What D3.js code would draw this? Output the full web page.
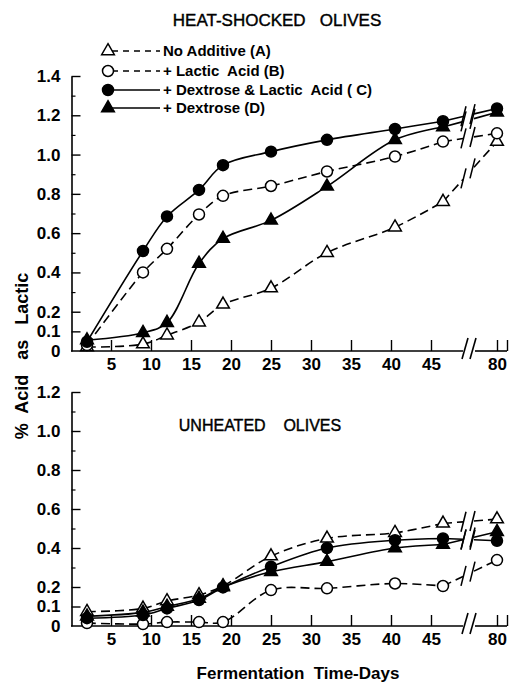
<!DOCTYPE html>
<html><head><meta charset="utf-8">
<script src="https://cdn.jsdelivr.net/npm/d3@7"></script>
<style>
body{margin:0;background:#fff}
svg text{font-family:"Liberation Sans",Arial,sans-serif;font-weight:bold;fill:#000;white-space:pre}
</style></head><body>
<svg id="c" width="514" height="684"></svg>
<script>
// ---------- DATA ----------
const days = [2, 9, 12, 16, 19, 25, 32, 40.5, 46.5, 80];
const seriesNames = ["No Additive (A)", "+ Lactic  Acid (B)", "+ Dextrose & Lactic  Acid ( C)", "+ Dextrose (D)"];
// Heat-shocked olives (% acid as lactic)
const heatA = [0.02, 0.035, 0.08, 0.146, 0.237, 0.32, 0.50, 0.63, 0.76, 1.066];
const heatB = [0.03, 0.40, 0.52, 0.695, 0.79, 0.84, 0.914, 0.99, 1.066, 1.108];
const heatC = [0.047, 0.509, 0.685, 0.82, 0.946, 1.015, 1.075, 1.13, 1.17, 1.235];
const heatD = [0.055, 0.093, 0.144, 0.445, 0.572, 0.665, 0.838, 1.075, 1.14, 1.215];
// Unheated olives
const unhA = [0.073, 0.09, 0.128, 0.159, 0.205, 0.358, 0.449, 0.478, 0.526, 0.548];
const unhB = [0.015, 0.01, 0.02, 0.02, 0.02, 0.184, 0.193, 0.218, 0.205, 0.338];
const unhC = [0.04, 0.056, 0.09, 0.133, 0.198, 0.304, 0.40, 0.44, 0.449, 0.437];
const unhD = [0.05, 0.07, 0.10, 0.14, 0.20, 0.278, 0.33, 0.40, 0.418, 0.483];
// Ticks
const xTickValues = [5, 10, 15, 20, 25, 30, 35, 40, 45, 80];
const xTickLabels = ["5", "10", "15", "20", "25", "30", "35", "40", "45", "80"];
const yTopValues = [0, 0.1, 0.2, 0.4, 0.6, 0.8, 1.0, 1.2, 1.4];
const yTopLabels = ["0", "0.1", "0.2", "0.4", "0.6", "0.8", "1.0", "1.2", "1.4"];
const yTopMinor = [0.3, 0.5, 0.7, 0.9, 1.1, 1.3];
const yBotValues = [0, 0.1, 0.2, 0.4, 0.6, 0.8, 1.0, 1.2];
const yBotLabels = ["0", "0.1", "0.2", "0.4", "0.6", "0.8", "1.0", "1.2"];
const yBotMinor = [0.3, 0.5, 0.7, 0.9, 1.1];

// ---------- LAYOUT ----------
const svg = d3.select("#c");
const x = d3.scaleLinear().domain([0, 48, 78, 82]).range([71, 455, 481, 513]);
const xAxisEnd = 81.25;          // end of drawn axis after break
const breakL = 463, breakR = 474; // axis break gap (px)
const styles = [
  {dash: "9,5", sym: d3.symbolTriangle, fill: "#fff"},
  {dash: "9,5", sym: d3.symbolCircle, fill: "#fff"},
  {dash: null, sym: d3.symbolCircle, fill: "#000"},
  {dash: null, sym: d3.symbolTriangle, fill: "#000"}
];
function symSize(s) { return s === d3.symbolCircle ? 95 : 70; }

function drawPanel(yRange, yMax, yVals, yLabels, yMinor, data) {
  const y = d3.scaleLinear().domain([0, yMax]).range(yRange);
  const g = svg.append("g");
  const y0 = y(0);

  // y axis
  const ya = g.append("g").attr("transform", "translate(71.5,0)")
    .call(d3.axisLeft(y).tickValues(yVals).tickFormat((d, i) => yLabels[i])
      .tickSizeInner(-9).tickSizeOuter(0).tickPadding(11));
  ya.select(".domain").attr("stroke-width", 1.6);
  ya.selectAll(".tick line").attr("stroke-width", 1.4);
  ya.selectAll(".tick").filter(d => d === 0).select("line").remove();
  ya.selectAll("text").style("font-size", "17px").attr("font-family", null);
  const ym = g.append("g").attr("transform", "translate(71.5,0)")
    .call(d3.axisLeft(y).tickValues(yMinor).tickFormat("").tickSizeInner(-4).tickSizeOuter(0));
  ym.select(".domain").remove();
  ym.selectAll(".tick line").attr("stroke-width", 1.2);

  // x axis
  const xa = g.append("g").attr("transform", `translate(0,${y0})`)
    .call(d3.axisBottom(x).tickValues(xTickValues.concat([xAxisEnd]))
      .tickFormat((d, i) => i < xTickLabels.length ? xTickLabels[i] : "")
      .tickSizeInner(-11).tickSizeOuter(0).tickPadding(7));
  xa.select(".domain").remove();
  xa.selectAll(".tick line").attr("stroke-width", 1.4);
  xa.selectAll("text").style("font-size", "17px").attr("font-family", null);
  g.append("line").attr("x1", x(0)).attr("x2", breakL).attr("y1", y0).attr("y2", y0)
    .attr("stroke", "#000").attr("stroke-width", 1.6);
  g.append("line").attr("x1", breakR + 1).attr("x2", x(xAxisEnd)).attr("y1", y0).attr("y2", y0)
    .attr("stroke", "#000").attr("stroke-width", 1.6);
  [breakL - 1, breakR - 4].forEach(bx => {
    g.append("line").attr("x1", bx).attr("y1", y0 + 8).attr("x2", bx + 6).attr("y2", y0 - 13)
      .attr("stroke", "#000").attr("stroke-width", 1.6);
  });

  // series lines
  const line = d3.line().x(d => x(d[0])).y(d => y(d[1])).curve(d3.curveCatmullRom.alpha(0.5));
  data.forEach((vals, si) => {
    const st = styles[si];
    const pts = days.map((d, i) => [d, vals[i]]);
    const main = pts.slice(0, pts.length - 1);
    const p8 = [x(main[main.length - 1][0]), y(main[main.length - 1][1])];
    const p9 = [x(pts[pts.length - 1][0]), y(pts[pts.length - 1][1])];
    const yAt = px => p8[1] + (p9[1] - p8[1]) * (px - p8[0]) / (p9[0] - p8[0]);
    const b1 = breakL, b2 = breakR;
    const path = g.append("path").attr("d", line(main) +
        `M${p8[0]},${p8[1]}L${b1},${yAt(b1)}M${b2},${yAt(b2)}L${p9[0]},${p9[1]}`)
      .attr("fill", "none").attr("stroke", "#000").attr("stroke-width", 1.6);
    if (st.dash) path.attr("stroke-dasharray", st.dash);
    [b1 - 2, b2 - 4].forEach(bx => {
      const yb = yAt(bx + 3);
      g.append("line").attr("x1", bx).attr("y1", yb + 10).attr("x2", bx + 5).attr("y2", yb - 10)
        .attr("stroke", "#000").attr("stroke-width", 1.5);
    });
  });
  // markers
  data.forEach((vals, si) => {
    const st = styles[si];
    g.selectAll(null).data(days.map((d, i) => [d, vals[i]])).join("path")
      .attr("d", d3.symbol(st.sym, symSize(st.sym)))
      .attr("transform", d => `translate(${x(d[0])},${y(d[1])})`)
      .attr("fill", st.fill).attr("stroke", "#000").attr("stroke-width", 1.5);
  });
  return y;
}

drawPanel([351, 76], 1.4, yTopValues, yTopLabels, yTopMinor, [heatA, heatB, heatC, heatD]);
drawPanel([626, 392], 1.2, yBotValues, yBotLabels, yBotMinor, [unhA, unhB, unhC, unhD]);

// titles
svg.append("text").attr("x", 277).attr("y", 26).attr("text-anchor", "middle")
  .style("font-size", "17px").style("font-weight", "normal").style("stroke", "#000").style("stroke-width", 0.4)
  .text("HEAT-SHOCKED   OLIVES");
svg.append("text").attr("x", 260).attr("y", 431).attr("text-anchor", "middle")
  .style("font-size", "16px").style("font-weight", "normal").style("stroke", "#000").style("stroke-width", 0.4)
  .text("UNHEATED    OLIVES");
svg.append("text").attr("x", 298).attr("y", 679).attr("text-anchor", "middle")
  .style("font-size", "17px").text("Fermentation  Time-Days");
svg.append("text").attr("transform", "translate(28,356) rotate(-90)").attr("text-anchor", "middle")
  .style("font-size", "18px").text("%  Acid   as   Lactic");

// legend
const legRows = [51, 71, 90, 108];
seriesNames.forEach((name, i) => {
  const st = styles[i];
  const ly = legRows[i];
  const ln = svg.append("line").attr("x1", 112).attr("x2", 160).attr("y1", ly).attr("y2", ly)
    .attr("stroke", "#000").attr("stroke-width", 1.6);
  if (st.dash) ln.attr("stroke-dasharray", "6,5");
  svg.append("path").attr("d", d3.symbol(st.sym, symSize(st.sym))())
    .attr("transform", `translate(108,${ly})`)
    .attr("fill", st.fill).attr("stroke", "#000").attr("stroke-width", 1.5);
  svg.append("text").attr("x", 163).attr("y", ly).attr("dy", "0.36em")
    .style("font-size", "15px").text(name);
});
</script></body></html>
